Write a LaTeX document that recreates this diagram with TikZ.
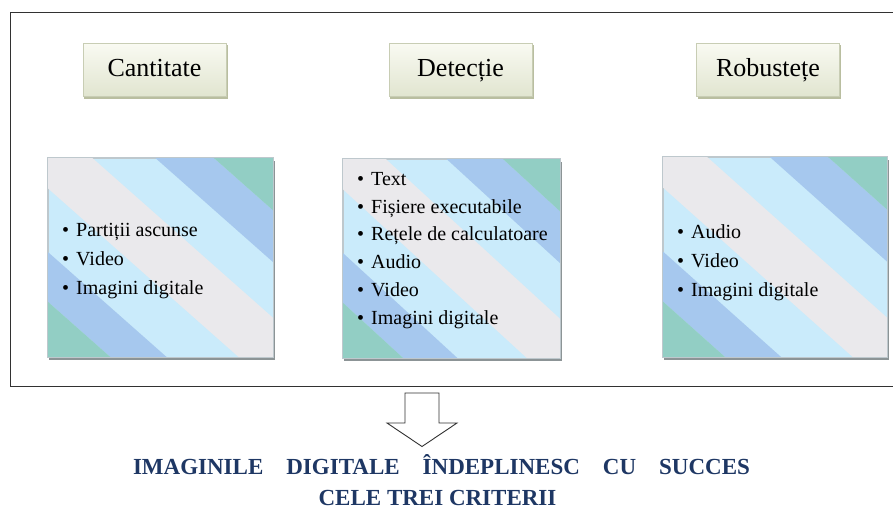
\documentclass[tikz,border=0pt]{standalone}
\usepackage{fontspec}
\setmainfont{Liberation Serif}
\usetikzlibrary{backgrounds,calc}
\definecolor{teal1}{RGB}{146,206,196}
\definecolor{blue1}{RGB}{166,200,238}
\definecolor{lblue}{RGB}{202,235,251}
\definecolor{beige1}{RGB}{234,233,236}
\definecolor{boxedge}{RGB}{190,200,205}
\definecolor{boxshadow}{RGB}{140,148,150}
\definecolor{hedge}{RGB}{200,205,180}
\definecolor{htop}{RGB}{249,250,242}
\definecolor{hbot}{RGB}{225,229,208}
\definecolor{hshadow}{RGB}{185,190,160}
\definecolor{navy}{RGB}{30,55,100}
\definecolor{framecol}{RGB}{50,50,50}
\newcommand{\stband}[3]{\fill[#3] ({3+#1},-2) -- ({3+#2},-2) -- ({#2-2},3) -- ({#1-2},3) -- cycle;}
\newcommand{\stripes}[3]{%
  \begin{scope}
    \clip (#1.south west) rectangle (#1.north east);
    \begin{scope}[shift={(#1.south west)}, xscale=#2, yscale=#3]
      \stband{-0.15}{0.2}{beige1}
      \stband{0.48}{0.74}{blue1}
      \stband{0.74}{3}{teal1}
      \stband{-0.72}{-0.47}{blue1}
      \stband{-3}{-0.72}{teal1}
    \end{scope}
  \end{scope}
  \draw[boxedge, line width=0.6pt] (#1.south west) rectangle (#1.north east);}
\newcommand{\itm}[1]{\makebox[14pt][l]{\textbullet}#1}
\tikzset{
  headbox/.style={draw=hedge, line width=0.6pt, top color=htop, bottom color=hbot,
    minimum width=143pt, minimum height=53pt, inner sep=0pt,
    text height=19pt, text depth=5pt,
    font=\fontsize{26}{30}\selectfont},
  stripebox/.style 2 args={draw=boxedge, line width=0.6pt, fill=lblue,
    minimum width=#1pt, minimum height=#2pt, inner sep=0pt},
  listtext/.style={anchor=west, align=left, inner sep=0pt},
  bottomtext/.style={font=\fontsize{23}{31}\selectfont\bfseries, text=navy, inner sep=0pt, anchor=base},
  arrowline/.style={draw=framecol, line width=0.9pt, line join=miter},
}
\begin{document}
\begin{tikzpicture}[x=1pt,y=1pt]
\useasboundingbox (0,0) rectangle (893,-515);
\begin{scope}[on background layer]
  \fill[white] (0,0) rectangle (893,-515);
\end{scope}
% frame
\draw[framecol, line width=1.6pt] (10.5,-12.5) rectangle (905,-386.5);
% headers
\node[headbox] (h1) at (154.5,-69.5) {Cantitate};
\node[headbox] (h2) at (460.5,-69.5) {Detecție};
\node[headbox] (h3) at (768,-69.5) {Robustețe};
% content boxes
\node[stripebox={225}{199}] (b1) at (160.5,-257.5) {};
\node[stripebox={217}{199}] (b2) at (451.5,-258.5) {};
\node[stripebox={224}{200}] (b3) at (775,-257) {};
\stripes{b1}{225}{199}
\stripes{b2}{217}{199}
\stripes{b3}{224}{200}
\begin{scope}[on background layer]
  \foreach \n in {h1,h2,h3}{
    \fill[hshadow] ([xshift=1.5pt,yshift=-2.5pt]\n.south west) rectangle ([xshift=1.5pt,yshift=-2.5pt]\n.north east);
  }
  \foreach \n in {b1,b2,b3}{
    \fill[boxshadow] ([xshift=1.5pt,yshift=-3pt]\n.south west) rectangle ([xshift=1.5pt,yshift=-3pt]\n.north east);
  }
\end{scope}
% lists
\node[listtext, font=\fontsize{20}{29}\selectfont] (l1) at (62,-261) {\itm{Partiții ascunse}\\ \itm{Video}\\ \itm{Imagini digitale}};
\node[listtext, font=\fontsize{20}{27.8}\selectfont] (l2) at (357,-250.5) {\itm{Text}\\ \itm{Fișiere executabile}\\ \itm{Rețele de calculatoare}\\ \itm{Audio}\\ \itm{Video}\\ \itm{Imagini digitale}};
\node[listtext, font=\fontsize{20}{29}\selectfont] (l3) at (677,-262.5) {\itm{Audio}\\ \itm{Video}\\ \itm{Imagini digitale}};
% arrow
\draw[arrowline] (405,-393) -- (439,-393) -- (439,-423) -- (457,-423) -- (422,-446.5) -- (387,-423) -- (405,-423) -- cycle;
% conclusion
\node[bottomtext] (c1) at (441.5,-474.5) {\makebox[617pt]{IMAGINILE\hfill DIGITALE\hfill ÎNDEPLINESC\hfill CU\hfill SUCCES}};
\node[bottomtext] (c2) at (437.5,-505) {CELE TREI CRITERII};
\end{tikzpicture}
\end{document}
